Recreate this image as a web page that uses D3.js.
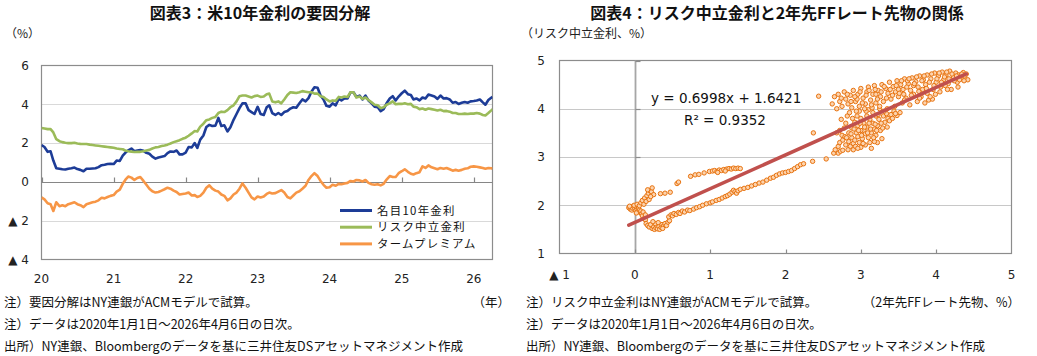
<!DOCTYPE html>
<html><head><meta charset="utf-8">
<script src="https://cdn.jsdelivr.net/npm/d3@7"></script>
<style>body{margin:0;background:#fff}svg{display:block}</style>
</head><body><svg id="c" width="1037" height="356"></svg>
<script>
const dates=[
"2020-01-01","2020-01-16","2020-02-01","2020-02-16","2020-03-01","2020-03-16","2020-04-01","2020-04-16","2020-05-01","2020-05-16","2020-06-01","2020-06-16","2020-07-01","2020-07-16","2020-08-01","2020-08-16","2020-09-01","2020-09-16","2020-10-01","2020-10-16","2020-11-01","2020-11-16","2020-12-01","2020-12-16",
"2021-01-01","2021-01-16","2021-02-01","2021-02-16","2021-03-01","2021-03-16","2021-04-01","2021-04-16","2021-05-01","2021-05-16","2021-06-01","2021-06-16","2021-07-01","2021-07-16","2021-08-01","2021-08-16","2021-09-01","2021-09-16","2021-10-01","2021-10-16","2021-11-01","2021-11-16","2021-12-01","2021-12-16",
"2022-01-01","2022-01-16","2022-02-01","2022-02-16","2022-03-01","2022-03-16","2022-04-01","2022-04-16","2022-05-01","2022-05-16","2022-06-01","2022-06-16","2022-07-01","2022-07-16","2022-08-01","2022-08-16","2022-09-01","2022-09-16","2022-10-01","2022-10-16","2022-11-01","2022-11-16","2022-12-01","2022-12-16",
"2023-01-01","2023-01-16","2023-02-01","2023-02-16","2023-03-01","2023-03-16","2023-04-01","2023-04-16","2023-05-01","2023-05-16","2023-06-01","2023-06-16","2023-07-01","2023-07-16","2023-08-01","2023-08-16","2023-09-01","2023-09-16","2023-10-01","2023-10-16","2023-11-01","2023-11-16","2023-12-01","2023-12-16",
"2024-01-01","2024-01-16","2024-02-01","2024-02-16","2024-03-01","2024-03-16","2024-04-01","2024-04-16","2024-05-01","2024-05-16","2024-06-01","2024-06-16","2024-07-01","2024-07-16","2024-08-01","2024-08-16","2024-09-01","2024-09-16","2024-10-01","2024-10-16","2024-11-01","2024-11-16","2024-12-01","2024-12-16",
"2025-01-01","2025-01-16","2025-02-01","2025-02-16","2025-03-01","2025-03-16","2025-04-01","2025-04-16","2025-05-01","2025-05-16","2025-06-01","2025-06-16","2025-07-01","2025-07-16","2025-08-01","2025-08-16","2025-09-01","2025-09-16","2025-10-01","2025-10-16","2025-11-01","2025-11-16","2025-12-01","2025-12-16",
"2026-01-01","2026-01-16","2026-02-01","2026-02-16","2026-03-01","2026-03-16","2026-04-01","2026-04-06"];

const nominal10y=[
1.90,1.80,1.55,1.58,1.10,0.70,0.68,0.65,0.64,0.68,0.70,0.74,0.66,0.62,0.55,0.68,0.68,0.69,0.70,0.76,0.86,0.88,0.92,0.93,
0.92,1.10,1.08,1.35,1.50,1.63,1.72,1.58,1.62,1.64,1.60,1.50,1.45,1.30,1.20,1.26,1.30,1.33,1.48,1.57,1.55,1.62,1.42,1.42,
1.51,1.80,1.78,2.00,1.75,2.18,2.39,2.83,2.94,2.88,2.90,3.30,2.88,2.92,2.60,2.82,3.20,3.50,3.80,4.05,4.05,3.70,3.60,3.50,
3.87,3.50,3.45,3.85,3.95,3.55,3.45,3.55,3.45,3.60,3.65,3.78,3.85,3.82,4.05,4.25,4.15,4.32,4.65,4.88,4.85,4.45,4.25,3.92,
3.88,4.05,3.95,4.28,4.20,4.30,4.30,4.62,4.62,4.38,4.45,4.25,4.45,4.20,4.05,3.88,3.85,3.65,3.75,4.05,4.30,4.42,4.20,4.40,
4.57,4.70,4.52,4.48,4.25,4.30,4.20,4.35,4.30,4.50,4.45,4.40,4.28,4.45,4.30,4.32,4.25,4.08,4.12,4.02,4.08,4.12,4.08,4.15,
4.17,4.20,4.25,4.10,3.98,4.22,4.35,4.38];

const riskNeutral=[
2.78,2.75,2.72,2.72,2.55,2.20,2.10,2.05,2.02,2.00,2.00,2.02,1.98,1.96,1.95,1.95,1.92,1.90,1.88,1.86,1.84,1.82,1.80,1.78,
1.76,1.72,1.70,1.68,1.62,1.58,1.56,1.54,1.55,1.55,1.58,1.62,1.65,1.72,1.78,1.80,1.85,1.88,1.92,1.98,2.05,2.10,2.15,2.22,
2.28,2.38,2.50,2.62,2.60,2.85,3.00,3.18,3.22,3.30,3.35,3.55,3.62,3.60,3.70,3.85,3.95,4.15,4.42,4.45,4.45,4.40,4.35,4.42,
4.45,4.38,4.40,4.52,4.55,4.15,4.10,4.15,4.05,4.25,4.48,4.62,4.60,4.58,4.62,4.68,4.65,4.62,4.62,4.55,4.55,4.42,4.38,4.25,
4.15,4.20,4.18,4.38,4.35,4.40,4.38,4.62,4.62,4.35,4.40,4.28,4.35,4.22,4.10,3.98,3.95,3.80,3.85,3.98,4.05,4.15,4.00,4.02,
4.02,4.05,4.00,4.02,3.88,3.85,3.75,3.78,3.72,3.78,3.75,3.72,3.68,3.72,3.65,3.66,3.62,3.55,3.55,3.50,3.50,3.52,3.50,3.52,
3.52,3.55,3.52,3.45,3.42,3.55,3.70,3.75];

const termPremium=[
-0.80,-0.90,-1.10,-1.15,-1.50,-1.05,-1.25,-1.20,-1.25,-1.15,-1.10,-1.05,-1.15,-1.20,-1.30,-1.15,-1.10,-1.05,-1.02,-0.95,-0.82,-0.85,-0.78,-0.72,
-0.68,-0.50,-0.40,-0.10,0.10,0.28,0.22,0.10,0.20,0.25,0.05,-0.15,-0.35,-0.48,-0.55,-0.52,-0.45,-0.38,-0.30,-0.35,-0.45,-0.52,-0.65,-0.62,
-0.60,-0.55,-0.70,-0.68,-0.78,-0.72,-0.55,-0.30,-0.18,-0.35,-0.45,-0.50,-0.65,-0.72,-0.95,-0.85,-0.65,-0.55,-0.35,-0.08,-0.30,-0.55,-0.80,-0.90,
-0.75,-0.80,-0.75,-0.62,-0.55,-0.60,-0.58,-0.50,-0.42,-0.55,-0.78,-0.85,-0.70,-0.55,-0.48,-0.35,-0.20,0.10,0.30,0.45,0.30,0.05,-0.15,-0.30,
-0.28,-0.15,-0.20,-0.10,-0.12,-0.08,-0.05,0.05,0.02,0.10,0.08,0.02,0.10,-0.05,-0.12,-0.15,-0.12,-0.18,-0.10,0.12,0.30,0.25,0.25,0.45,
0.55,0.65,0.52,0.42,0.38,0.45,0.50,0.80,0.72,0.85,0.75,0.70,0.65,0.72,0.68,0.72,0.65,0.58,0.62,0.58,0.62,0.68,0.70,0.78,
0.80,0.78,0.75,0.72,0.68,0.72,0.70,0.68];

const seriesNames=["名目10年金利","リスク中立金利","タームプレミアム"];
const seriesColors=["#1d3c97","#9bbb59","#f79646"];
const leftYTicks=[6,4,2,0,-2,-4];
const leftXTicks=["2020-01-01","2021-01-01","2022-01-01","2023-01-01","2024-01-01","2025-01-01","2026-01-01"];

// scatter: [2年先FFレート先物, リスク中立金利]
const scatter=[
[-0.08,1.95],[-0.06,1.92],[-0.05,1.97],[-0.04,1.90],[-0.03,1.94],[-0.02,1.98],[0.00,1.93],[0.01,1.89],[0.02,1.96],[0.03,1.91],[0.04,1.87],[0.05,1.94],[0.06,1.90],[0.07,1.85],[0.08,1.88],[0.09,1.82],[0.10,1.78],[0.11,1.86],[0.12,1.72],[-0.01,2.00],[0.03,2.02],[0.06,1.99],[-0.07,1.98],[0.02,1.84],[0.14,1.80],
[0.08,2.05],[0.10,2.10],[0.12,2.02],[0.13,2.15],[0.15,2.08],[0.16,2.20],[0.18,2.25],[0.19,2.12],[0.20,2.30],[0.22,2.28],[0.23,2.36],[0.25,2.22],[0.17,2.32],[0.21,2.18],
[0.34,2.24],[0.40,2.25],[0.47,2.27],[0.56,2.45],[0.58,2.48],
[0.74,2.60],[0.80,2.63],[0.85,2.64],[0.92,2.67],[0.99,2.70],[1.03,2.71],[1.06,2.72],[1.09,2.70],[1.12,2.73],[1.15,2.72],[1.18,2.74],[1.22,2.75],[1.25,2.76],[1.28,2.75],[1.31,2.77],[1.34,2.76],[1.37,2.77],[1.40,2.76],[1.10,2.68],[1.20,2.71],
[0.14,1.70],[0.15,1.62],[0.17,1.58],[0.19,1.55],[0.21,1.60],[0.23,1.52],[0.25,1.55],[0.26,1.50],[0.28,1.53],[0.29,1.58],[0.30,1.51],[0.32,1.56],[0.33,1.50],[0.35,1.54],[0.36,1.60],[0.38,1.57],[0.40,1.62],[0.42,1.58],[0.44,1.65],[0.46,1.68],[0.27,1.62],[0.31,1.64],[0.37,1.52],[0.24,1.66],
[0.45,1.76],[0.48,1.80],[0.50,1.78],[0.52,1.83],[0.55,1.81],[0.58,1.85],[0.60,1.83],[0.63,1.88],[0.66,1.86],[0.70,1.90],[0.73,1.89],[0.78,1.92],[0.82,1.95],[0.86,1.97],[0.90,2.00],[0.95,2.03],[1.00,2.05],[1.03,2.07],[1.08,2.10],[1.12,2.12],[1.16,2.15],[1.20,2.18],[1.23,2.20],[1.26,2.23],[1.29,2.27],[1.31,2.31],[1.33,2.28],[1.35,2.25],[1.37,2.30],[1.40,2.33],[1.45,2.35],[1.50,2.37],[1.55,2.40],[1.60,2.43],[1.65,2.46],[1.70,2.48],[1.75,2.52],[1.80,2.56],[1.84,2.58],[1.88,2.62],[1.92,2.65],[1.96,2.67],[2.00,2.68],[2.04,2.70],[2.08,2.72],[2.12,2.76],[2.16,2.80],[2.20,2.84],[2.24,2.86],[2.36,2.91],[2.54,2.96],[2.70,3.08],[2.73,3.12],[2.76,3.14],[2.37,3.50],[2.44,4.26],
[2.64,3.08],[2.66,3.15],[2.70,3.22],[2.72,3.30],[2.68,3.50],[2.72,3.55],[2.75,3.45],[2.78,3.60],[2.80,3.70],[2.74,3.78],[2.82,3.85],[2.85,3.92],[2.80,3.25],[2.84,3.32],[2.86,3.22],[2.88,3.40],[2.90,3.28],[2.92,3.35],[2.94,3.50],[2.96,3.42],[2.98,3.30],[3.00,3.20],[3.02,3.38],[3.04,3.55],[3.06,3.48],[3.08,3.62],[3.10,3.40],[3.12,3.30],[3.14,3.50],[3.16,3.70],[3.18,3.58],[3.20,3.45],[3.22,3.65],[3.24,3.78],[3.26,3.55],[3.28,3.38],[3.30,3.85],[3.32,3.72],[3.34,3.90],[3.36,3.80],[3.40,3.88],[3.44,3.95],[3.48,3.86],[3.52,3.92],[2.88,3.60],[2.92,3.72],[2.96,3.65],[3.00,3.80],[3.04,3.70],[3.08,3.85],[3.12,3.78],[3.16,3.92],[3.20,3.85],[2.90,3.15],[3.00,3.55],[3.06,3.25],[3.14,3.18],[3.22,3.30],[3.18,3.32],[2.98,3.95],[3.10,3.98],[2.84,3.50],[2.95,3.85],[3.25,4.00],
[2.76,3.35],[2.79,3.42],[2.83,3.15],[2.87,3.48],[2.91,3.58],[2.93,3.22],[2.97,3.55],[3.01,3.45],[3.03,3.28],[3.05,3.62],[3.09,3.50],[3.11,3.70],[3.13,3.58],[3.17,3.40],[3.19,3.68],[3.21,3.55],[3.23,3.88],[3.27,3.70],[3.29,3.60],[3.31,3.95],[3.35,3.62],[3.38,3.75],[3.42,3.80],[3.46,3.90],[2.99,3.70],[2.89,3.80],[2.94,3.95],[3.07,3.95],[2.81,3.40],[2.96,3.18],
[2.62,4.10],[2.65,4.25],[2.68,4.00],[2.70,4.30],[2.72,4.15],[2.75,4.05],[2.78,4.35],[2.80,4.20],[2.83,4.10],[2.86,4.28],[2.88,4.02],[2.90,4.38],[2.93,4.15],[2.96,4.30],[2.98,4.05],[3.00,4.42],[3.03,4.22],[3.06,4.10],[3.08,4.35],[3.10,4.45],[3.13,4.18],[3.16,4.30],[3.18,4.48],[3.20,4.12],[3.23,4.38],[3.26,4.25],[3.28,4.50],[3.30,4.15],[3.33,4.42],[3.36,4.32],[3.38,4.55],[3.40,4.20],[3.43,4.46],[3.46,4.35],[3.48,4.58],[3.50,4.25],[3.53,4.50],[3.56,4.40],[3.58,4.62],[3.60,4.22],[3.63,4.52],[3.66,4.38],[3.68,4.64],[3.70,4.30],[3.73,4.56],[3.76,4.45],[3.78,4.68],[3.80,4.25],[3.83,4.60],[3.86,4.50],[3.88,4.70],[3.90,4.18],[3.93,4.62],[3.96,4.40],[3.98,4.74],[4.00,4.55],[4.03,4.68],[4.06,4.45],[4.08,4.76],[4.10,4.60],[4.13,4.70],[4.16,4.52],[4.18,4.78],[4.20,4.40],[4.23,4.66],[4.26,4.74],[4.28,4.55],[4.30,4.70],[4.33,4.62],[4.36,4.75],[4.38,4.68],[4.40,4.72],[4.42,4.60],[3.45,4.05],[3.55,4.12],[3.65,4.08],[3.75,4.15],[3.85,4.12],[3.95,4.20],[3.35,4.00],[3.25,4.05],[3.15,4.02],[3.05,4.00],[3.92,4.25],[3.70,4.48],[3.50,4.40],[3.20,4.30],[2.95,4.20],[3.62,4.58],[3.82,4.40],[4.05,4.35],[4.15,4.40],
[2.74,4.22],[2.82,4.30],[2.87,4.15],[2.92,4.25],[2.99,4.35],[3.02,4.12],[3.07,4.28],[3.11,4.38],[3.14,4.08],[3.19,4.40],[3.22,4.20],[3.27,4.35],[3.31,4.46],[3.34,4.22],[3.39,4.40],[3.42,4.28],[3.47,4.48],[3.51,4.32],[3.54,4.58],[3.57,4.30],[3.61,4.45],[3.64,4.62],[3.67,4.28],[3.71,4.52],[3.74,4.66],[3.77,4.36],[3.81,4.58],[3.84,4.68],[3.87,4.42],[3.91,4.55],[3.94,4.72],[3.97,4.48],[4.01,4.62],[4.04,4.74],[4.07,4.55],[4.11,4.66],[4.14,4.76],[4.17,4.62],[4.21,4.72],[4.24,4.58],[4.27,4.68],[4.31,4.60],[4.34,4.72],[4.37,4.58],[4.29,4.45],[4.12,4.48],[3.99,4.30],[3.88,4.32],[3.78,4.22],[3.58,4.18]
];
const trendSlope=0.6998, trendIntercept=1.6421, trendRange=[-0.08,4.40];
const rightXTicks=[-1,0,1,2,3,4,5];
const rightYTicks=[1,2,3,4,5];

const svg=d3.select("#c");
const JP='"Noto Sans CJK JP", sans-serif';
const NUM='"DejaVu Sans", Verdana, sans-serif';
const parse=d3.timeParse("%Y-%m-%d");
const fmtNeg=v=>v<0?"▲ "+(-v):String(v);

// ===== Left chart =====
const L={l:41.5,r:492.5,t:65.5,b:259.5};
const xL=d3.scaleTime().domain([parse("2020-01-01"),parse("2026-04-06")]).range([L.l,L.r]);
const yL=d3.scaleLinear().domain([-4,6]).range([L.b,L.t]);
const gl=svg.append("g");
gl.selectAll(".g").data(leftYTicks.filter(v=>v!==6&&v!==-4&&v!==0)).enter().append("line")
  .attr("x1",L.l).attr("x2",L.r).attr("y1",d=>Math.round(yL(d))+0.5).attr("y2",d=>Math.round(yL(d))+0.5)
  .attr("stroke","#d9d9d9").attr("stroke-width",1.2);
gl.append("rect").attr("x",L.l).attr("y",L.t).attr("width",L.r-L.l).attr("height",L.b-L.t)
  .attr("fill","none").attr("stroke","#8c8c8c").attr("stroke-width",1.2);
const y0=Math.round(yL(0))+0.5;
gl.append("line").attr("x1",L.l).attr("x2",L.r).attr("y1",y0).attr("y2",y0).attr("stroke","#868686").attr("stroke-width",1.2);
gl.selectAll(".xt").data(leftXTicks).enter().append("line")
  .attr("x1",d=>Math.round(xL(parse(d)))+0.5).attr("x2",d=>Math.round(xL(parse(d)))+0.5)
  .attr("y1",y0).attr("y2",y0-5).attr("stroke","#868686").attr("stroke-width",1.2);
gl.selectAll(".yl").data(leftYTicks).enter().append("text")
  .attr("x",29).attr("y",d=>yL(d)).attr("dy","0.36em").attr("text-anchor","end")
  .attr("font-family",NUM).attr("font-size",12).attr("fill","#222").text(fmtNeg);
gl.selectAll(".xl").data(leftXTicks).enter().append("text")
  .attr("x",d=>xL(parse(d))).attr("y",283).attr("text-anchor","middle")
  .attr("font-family",NUM).attr("font-size",12).attr("fill","#222").text(d=>d.slice(2,4));
gl.append("clipPath").attr("id","clipL").append("rect").attr("x",L.l).attr("y",L.t).attr("width",L.r-L.l).attr("height",L.b-L.t);
const lineL=d3.line().x((d,i)=>xL(parse(dates[i]))).y(d=>yL(d));
[nominal10y,riskNeutral,termPremium].forEach((s,k)=>{
  gl.append("path").attr("d",lineL(s)).attr("fill","none").attr("stroke",seriesColors[k])
    .attr("stroke-width",2.6).attr("stroke-linejoin","round").attr("clip-path","url(#clipL)");
});
const leg=gl.append("g");
seriesNames.forEach((n,k)=>{
  const yy=210.5+k*16.7;
  leg.append("line").attr("x1",340).attr("x2",372).attr("y1",yy).attr("y2",yy).attr("stroke",seriesColors[k]).attr("stroke-width",3);
  leg.append("text").attr("x",377).attr("y",yy).attr("dy","0.36em").attr("font-family",JP).attr("font-size",11.4)
    .attr("letter-spacing",1.3).attr("fill","#111").text(n);
});
svg.append("text").attr("x",260).attr("y",19).attr("text-anchor","middle").attr("font-family",JP)
  .attr("font-weight","bold").attr("font-size",16).attr("fill","#111").text("図表3：米10年金利の要因分解");
svg.append("text").attr("x",5).attr("y",38).attr("font-family",JP).attr("font-size",12).attr("fill","#222").text("（%）");

// ===== Right chart =====
const R={l:559.5,r:1011.5,t:60.5,b:253.5};
const xR=d3.scaleLinear().domain([-1,5]).range([R.l,R.r]);
const yR=d3.scaleLinear().domain([1,5]).range([R.b,R.t]);
const gr=svg.append("g");
gr.selectAll(".g").data(rightYTicks.filter(v=>v>1&&v<5)).enter().append("line")
  .attr("x1",R.l).attr("x2",R.r).attr("y1",d=>Math.round(yR(d))+0.5).attr("y2",d=>Math.round(yR(d))+0.5)
  .attr("stroke","#c8c8c8").attr("stroke-width",1.2);
gr.append("rect").attr("x",R.l).attr("y",R.t).attr("width",R.r-R.l).attr("height",R.b-R.t)
  .attr("fill","none").attr("stroke","#8c8c8c").attr("stroke-width",1.2);
const vx0=Math.round(xR(0))+0.5;
gr.append("line").attr("x1",vx0).attr("x2",vx0).attr("y1",R.t).attr("y2",R.b).attr("stroke","#a6a6a6").attr("stroke-width",1.8);
gr.selectAll(".yt").data(rightYTicks.filter(v=>v>1)).enter().append("line")
  .attr("x1",vx0).attr("x2",vx0+5).attr("y1",d=>Math.round(yR(d))+0.5).attr("y2",d=>Math.round(yR(d))+0.5)
  .attr("stroke","#8c8c8c").attr("stroke-width",1.2);
gr.selectAll(".xt").data(rightXTicks.filter(v=>v>-1&&v<5)).enter().append("line")
  .attr("x1",d=>Math.round(xR(d))+0.5).attr("x2",d=>Math.round(xR(d))+0.5)
  .attr("y1",R.b).attr("y2",R.b-4).attr("stroke","#8c8c8c").attr("stroke-width",1.2);
gr.selectAll(".yl").data(rightYTicks).enter().append("text")
  .attr("x",545).attr("y",d=>yR(d)).attr("dy","0.36em").attr("text-anchor","end")
  .attr("font-family",NUM).attr("font-size",12).attr("fill","#222").text(d=>d);
gr.selectAll(".xl").data(rightXTicks).enter().append("text")
  .attr("x",d=>xR(d)).attr("y",279).attr("text-anchor","middle")
  .attr("font-family",NUM).attr("font-size",12).attr("fill","#222").text(fmtNeg);
gr.selectAll("circle").data(scatter).enter().append("circle")
  .attr("cx",d=>xR(d[0])).attr("cy",d=>yR(d[1])).attr("r",2.2)
  .attr("fill","#fcd3ae").attr("stroke","#e8730f").attr("stroke-width",1);
gr.append("line").attr("x1",xR(trendRange[0])).attr("y1",yR(trendSlope*trendRange[0]+trendIntercept))
  .attr("x2",xR(trendRange[1])).attr("y2",yR(trendSlope*trendRange[1]+trendIntercept))
  .attr("stroke","#c0504d").attr("stroke-width",3.5).attr("stroke-linecap","round");
gr.append("text").attr("x",651).attr("y",103).attr("font-family",NUM).attr("font-size",13.5).attr("fill","#111")
  .text(`y = ${trendSlope}x + ${trendIntercept}`);
gr.append("text").attr("x",684).attr("y",125).attr("font-family",NUM).attr("font-size",13.5).attr("fill","#111")
  .text("R² = 0.9352");
svg.append("text").attr("x",777).attr("y",19).attr("text-anchor","middle").attr("font-family",JP)
  .attr("font-weight","bold").attr("font-size",16).attr("fill","#111").text("図表4：リスク中立金利と2年先FFレート先物の関係");
svg.append("text").attr("x",521).attr("y",38).attr("font-family",JP).attr("font-size",12).attr("fill","#222").text("（リスク中立金利、%）");

// ===== Notes =====
const notesL=["注）要因分解はNY連銀がACMモデルで試算。","注）データは2020年1月1日～2026年4月6日の日次。","出所）NY連銀、Bloombergのデータを基に三井住友DSアセットマネジメント作成"];
const notesR=["注）リスク中立金利はNY連銀がACMモデルで試算。","注）データは2020年1月1日～2026年4月6日の日次。","出所）NY連銀、Bloombergのデータを基に三井住友DSアセットマネジメント作成"];
notesL.forEach((t,i)=>svg.append("text").attr("x",4).attr("y",307+i*22).attr("font-family",JP).attr("font-size",12.5).attr("fill","#111").text(t));
notesR.forEach((t,i)=>svg.append("text").attr("x",526).attr("y",307+i*22).attr("font-family",JP).attr("font-size",12.5).attr("fill","#111").text(t));
svg.append("text").attr("x",510).attr("y",307).attr("text-anchor","end").attr("font-family",JP).attr("font-size",12.5).attr("fill","#111").text("（年）");
svg.append("text").attr("x",1020).attr("y",307).attr("text-anchor","end").attr("font-family",JP).attr("font-size",12.5).attr("fill","#111").text("（2年先FFレート先物、%）");
</script></body></html>
